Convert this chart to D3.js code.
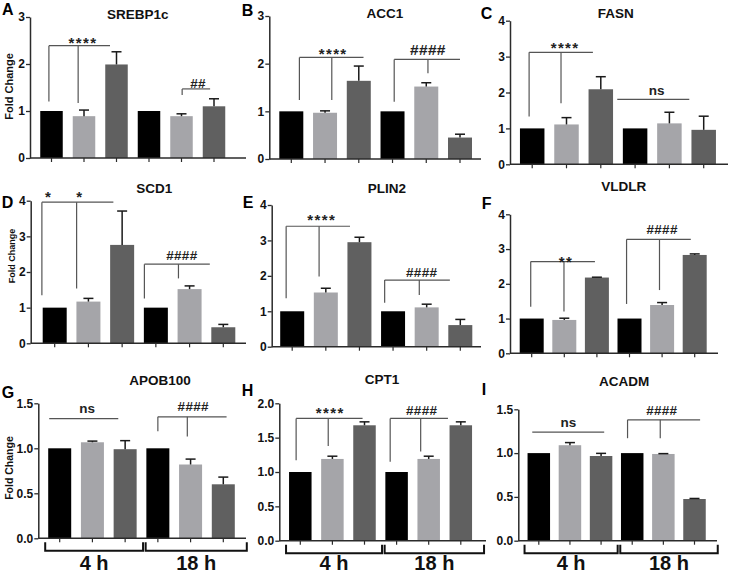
<!DOCTYPE html>
<html>
<head>
<meta charset="utf-8">
<script src="https://cdn.jsdelivr.net/npm/d3@7"></script>
<style>
  body { margin: 0; background: #fff; }
  svg { display: block; font-family: "Liberation Sans", Arial, sans-serif; font-weight: bold; }
</style>
</head>
<body>
<div id="chart"></div>
<script>
// ---- data ----
var genes   = ["SREBP1c", "ACC1", "FASN", "SCD1", "PLIN2", "VLDLR", "APOB100", "CPT1", "ACADM"];
var letters = ["A", "B", "C", "D", "E", "F", "G", "H", "I"];
var groups  = ["4 h", "18 h"];
var barColors = ["#000000", "#a5a5a9", "#606060"];

// mean fold change and SEM, 6 bars per gene (3 at 4 h, 3 at 18 h)
var srebp1cMean = [1, 0.89, 1.99, 1, 0.89, 1.10];
var srebp1cSem  = [0, 0.13, 0.27, 0, 0.05, 0.16];
var acc1Mean    = [1, 0.97, 1.64, 1, 1.52, 0.45];
var acc1Sem     = [0, 0.04, 0.31, 0, 0.08, 0.07];
var fasnMean    = [1, 1.11, 2.09, 1, 1.14, 0.96];
var fasnSem     = [0, 0.19, 0.35, 0, 0.31, 0.38];
var scd1Mean    = [1, 1.17, 2.76, 1, 1.52, 0.45];
var scd1Sem     = [0, 0.09, 0.95, 0, 0.09, 0.08];
var plin2Mean   = [1, 1.53, 2.95, 1, 1.11, 0.61];
var plin2Sem    = [0, 0.12, 0.14, 0, 0.09, 0.16];
var vldlrMean   = [1, 0.96, 2.18, 1, 1.39, 2.83];
var vldlrSem    = [0, 0.05, 0.01, 0, 0.07, 0.03];
var apob100Mean = [1, 1.067, 0.99, 1, 0.82, 0.60];
var apob100Sem  = [0, 0.013, 0.095, 0, 0.06, 0.08];
var cpt1Mean    = [1, 1.19, 1.68, 1, 1.19, 1.68];
var cpt1Sem     = [0, 0.04, 0.05, 0, 0.04, 0.05];
var acadmMean   = [1, 1.09, 0.967, 1, 0.99, 0.476];
var acadmSem    = [0, 0.03, 0.03, 0, 0.004, 0.006];

// y tick values
var ticks3  = [0, 1, 2, 3];
var ticks4  = [0, 1, 2, 3, 4];
var ticks15 = [0, 0.5, 1.0, 1.5];
var ticks20 = [0, 0.5, 1.0, 1.5, 2.0];

// significance brackets: x in bar-index units, y in fold change
var srebp1cSig = [
  {text: [["****", 0.97]], ty: 2.33, y: 2.39, x1: -0.08, x2: 1.8, drops: [[-0.08, 1.2], [0.82, 1.17]]},
  {text: [["##", 4.51]], ty: 1.50, y: 1.47, x1: 4.02, x2: 4.88, drops: [[4.02, 1.34]]}
];
var acc1Sig = [
  {text: [["****", 1.24]], ty: 2.10, y: 2.13, x1: 0.24, x2: 2.14, drops: [[0.24, 1.24], [1.2, 1.24]]},
  {text: [["####", 4.05]], ty: 2.18, y: 2.09, x1: 3.05, x2: 5.0, drops: [[3.05, 1.2], [4.05, 1.8]]}
];
var fasnSig = [
  {text: [["****", 0.96]], ty: 3.09, y: 3.12, x1: -0.09, x2: 1.77, drops: [[-0.09, 1.33], [0.84, 1.7]]},
  {text: [["ns", 3.63]], ty: 1.93, y: 1.81, x1: 2.48, x2: 4.58, drops: []}
];
var scd1Sig = [
  {text: [["*", -0.18], ["*", 0.75]], ty: 3.96, y: 3.96, x1: -0.38, x2: 1.74, drops: [[-0.38, 1.35], [0.65, 1.54]]},
  {text: [["####", 3.77]], ty: 2.34, y: 2.22, x1: 2.66, x2: 4.6, drops: [[2.66, 1.26], [3.67, 1.82]]}
];
var plin2Sig = [
  {text: [["****", 0.88]], ty: 3.44, y: 3.40, x1: -0.18, x2: 1.72, drops: [[-0.18, 1.37], [0.8, 1.98]]},
  {text: [["####", 3.85]], ty: 1.98, y: 1.88, x1: 2.75, x2: 4.69, drops: [[2.75, 1.24], [3.78, 1.46]]}
];
var vldlrSig = [
  {text: [["**", 1.05]], ty: 2.47, y: 2.64, x1: -0.03, x2: 1.94, drops: [[-0.03, 1.34], [0.99, 1.2]]},
  {text: [["####", 4.0]], ty: 3.43, y: 3.28, x1: 2.91, x2: 4.88, drops: [[2.91, 1.42], [3.92, 1.82]]}
];
var apob100Sig = [
  {text: [["ns", 0.84]], ty: 1.395, y: 1.33, x1: -0.32, x2: 1.79, drops: []},
  {text: [["####", 4.08]], ty: 1.41, y: 1.35, x1: 3.0, x2: 5.1, drops: [[3.0, 1.19], [3.9, 1.13]]}
];
var cpt1Sig = [
  {text: [["****", 0.93]], ty: 1.785, y: 1.78, x1: -0.13, x2: 1.94, drops: [[-0.13, 1.17], [0.87, 1.38]]},
  {text: [["####", 3.78]], ty: 1.83, y: 1.78, x1: 2.8, x2: 4.6, drops: [[2.8, 1.15], [3.75, 1.30]]}
];
var acadmSig = [
  {text: [["ns", 0.95]], ty: 1.30, y: 1.24, x1: -0.21, x2: 2.1, drops: []},
  {text: [["####", 3.95]], ty: 1.43, y: 1.38, x1: 2.85, x2: 5.18, drops: [[2.85, 1.17], [3.9, 1.17]]}
];

// ---- layout of the 3x3 grid (pixels) ----
var frames = [
  {x0: 30,    x1: 246, y0: 158,   top: 17,    c0: 51.5,  c5: 214,   bw: 22.5, tx: 137.7, ty: 19.3,  lx: 2,     ly: 15},
  {x0: 269.3, x1: 481, y0: 159,   top: 16,    c0: 291.3, c5: 460,   bw: 24,   tx: 385,   ty: 18.3,  lx: 241.7, ly: 16},
  {x0: 510,   x1: 728, y0: 164.3, top: 20.7,  c0: 532.2, c5: 703.7, bw: 24.5, tx: 615.7, ty: 18.3,  lx: 480.7, ly: 19.3},
  {x0: 30.7,  x1: 246, y0: 343.3, top: 200.7, c0: 54.7,  c5: 223.3, bw: 24,   tx: 154.3, ty: 192.7, lx: 1.7,   ly: 208.3},
  {x0: 271.7, x1: 481, y0: 346.7, top: 205,   c0: 292.2, c5: 460.3, bw: 24,   tx: 386.8, ty: 192.7, lx: 242.7, ly: 208.3},
  {x0: 510,   x1: 718, y0: 353.3, top: 214.3, c0: 531.7, c5: 694.7, bw: 24,   tx: 623.8, ty: 190.7, lx: 481.7, ly: 209.3},
  {x0: 38.3,  x1: 246, y0: 538.3, top: 403.3, c0: 59.7,  c5: 223.3, bw: 23,   tx: 160,   ty: 385,   lx: 1.7,   ly: 398.3},
  {x0: 279.3, x1: 486, y0: 540.7, top: 403.3, c0: 300.3, c5: 460.8, bw: 22.5, tx: 382,   ty: 384,   lx: 241.7, ly: 396},
  {x0: 518.3, x1: 717, y0: 540.7, top: 409.3, c0: 538.8, c5: 694.5, bw: 22.5, tx: 624.2, ty: 386,   lx: 481.7, ly: 395}
];

var means = [srebp1cMean, acc1Mean, fasnMean, scd1Mean, plin2Mean, vldlrMean, apob100Mean, cpt1Mean, acadmMean];
var sems  = [srebp1cSem, acc1Sem, fasnSem, scd1Sem, plin2Sem, vldlrSem, apob100Sem, cpt1Sem, acadmSem];
var sigs  = [srebp1cSig, acc1Sig, fasnSig, scd1Sig, plin2Sig, vldlrSig, apob100Sig, cpt1Sig, acadmSig];
var ticks = [ticks3, ticks3, ticks4, ticks4, ticks4, ticks4, ticks15, ticks20, ticks15];

var svg = d3.select("#chart").append("svg")
            .attr("width", 730)
            .attr("height", 573);

var axisColor = "#2b2b2b";
var lineColor = "#555";

function drawPanel(i) {
    var f = frames[i];
    var tv = ticks[i];
    var g = svg.append("g");

    var step = (f.c5 - f.c0) / 5;
    var pad = 1 - f.bw / step;
    var x = d3.scaleBand()
              .domain(d3.range(6))
              .range([f.c0 - step / 2, f.c5 + step / 2])
              .paddingInner(pad)
              .paddingOuter(pad / 2);
    // fractional bar index -> pixel
    var xi = function(k) { return x(0) + x.bandwidth() / 2 + k * x.step(); };

    var y = d3.scaleLinear()
              .domain([0, tv[tv.length - 1]])
              .range([f.y0, f.top]);

    var rows = means[i].map(function(m, k) { return {k: k, mean: m, sem: sems[i][k]}; });

    // bars
    g.selectAll("rect.bar")
     .data(rows)
     .join("rect")
     .attr("class", "bar")
     .attr("x", function(d) { return x(d.k); })
     .attr("y", function(d) { return y(d.mean); })
     .attr("width", x.bandwidth())
     .attr("height", function(d) { return y(0) - y(d.mean); })
     .attr("fill", function(d) { return barColors[d.k % 3]; });

    // error bars (upper half only)
    var eb = g.selectAll("g.err")
              .data(rows.filter(function(d) { return d.sem > 0; }))
              .join("g")
              .attr("class", "err")
              .attr("stroke", "#1a1a1a")
              .attr("stroke-width", 1.5);
    eb.append("line")
      .attr("x1", function(d) { return xi(d.k); })
      .attr("x2", function(d) { return xi(d.k); })
      .attr("y1", function(d) { return y(d.mean); })
      .attr("y2", function(d) { return y(d.mean + d.sem); });
    eb.append("line")
      .attr("x1", function(d) { return xi(d.k) - 5; })
      .attr("x2", function(d) { return xi(d.k) + 5; })
      .attr("y1", function(d) { return y(d.mean + d.sem); })
      .attr("y2", function(d) { return y(d.mean + d.sem); });

    // y axis
    var fmt = tv[tv.length - 1] <= 2 ? d3.format(".1f") : d3.format("d");
    var ya = g.append("g")
              .attr("transform", "translate(" + f.x0 + ",0)")
              .call(d3.axisLeft(y).tickValues(tv).tickSize(4).tickSizeOuter(0).tickFormat(fmt));
    ya.select(".domain").attr("stroke", axisColor).attr("stroke-width", 1.5);
    ya.selectAll(".tick line").attr("stroke", axisColor).attr("stroke-width", 1.3);
    ya.selectAll(".tick text")
      .attr("x", -5)
      .attr("fill", "#111")
      .style("font-family", "'Liberation Sans', Arial, sans-serif")
      .style("font-weight", "bold")
      .style("font-size", "12px");

    // x axis: band ticks, line runs the full panel width
    var xa = g.append("g")
              .attr("transform", "translate(0," + f.y0 + ")")
              .call(d3.axisBottom(x).tickSize(4).tickSizeOuter(0).tickFormat(""));
    xa.select(".domain").remove();
    xa.selectAll(".tick line").attr("stroke", axisColor).attr("stroke-width", 1.2);
    g.append("line")
     .attr("x1", f.x0).attr("x2", f.x1)
     .attr("y1", f.y0).attr("y2", f.y0)
     .attr("stroke", axisColor)
     .attr("stroke-width", 1.5);

    // significance brackets
    sigs[i].forEach(function(s) {
        g.append("line")
         .attr("x1", xi(s.x1)).attr("x2", xi(s.x2))
         .attr("y1", y(s.y)).attr("y2", y(s.y))
         .attr("stroke", lineColor).attr("stroke-width", 1.2);
        s.drops.forEach(function(dp) {
            g.append("line")
             .attr("x1", xi(dp[0])).attr("x2", xi(dp[0]))
             .attr("y1", y(s.y)).attr("y2", y(dp[1]))
             .attr("stroke", lineColor).attr("stroke-width", 1.2);
        });
        s.text.forEach(function(t) {
            var isHash = t[0].charAt(0) === "#";
            var isStar = t[0].charAt(0) === "*";
            var size = isStar ? 15 : 13.5;
            if (isHash && i === 1) size = 15.5;
            g.append("text")
             .attr("x", xi(t[1]))
             .attr("y", y(s.ty))
             .attr("text-anchor", "middle")
             .attr("font-size", size)
             .attr("letter-spacing", isStar ? 1.4 : (isHash ? 0.3 : 0))
             .attr("fill", "#222")
             .text(t[0]);
        });
    });

    // title and panel letter
    g.append("text")
     .attr("x", f.tx).attr("y", f.ty)
     .attr("text-anchor", "middle")
     .attr("font-size", 13.5)
     .attr("fill", "#111")
     .text(genes[i]);
    g.append("text")
     .attr("x", f.lx).attr("y", f.ly)
     .attr("font-size", 16)
     .attr("fill", "#000")
     .text(letters[i]);

    // time-point brackets under the bottom row
    if (i >= 6) {
        var left = x(0) - 3;
        var mid = x(3) - 2;
        var right = x(5) + x.bandwidth() + 12;
        var spans = [[left, mid - 1.3], [mid + 1.3, right]];
        spans.forEach(function(sp, gi) {
            g.append("path")
             .attr("d", "M" + sp[0] + "," + (f.y0 + 4) + "V" + (f.y0 + 12.5) + "H" + sp[1] + "V" + (f.y0 + 4))
             .attr("fill", "none")
             .attr("stroke", "#111")
             .attr("stroke-width", 2);
            g.append("text")
             .attr("x", (sp[0] + sp[1]) / 2)
             .attr("y", 570)
             .attr("text-anchor", "middle")
             .attr("font-size", 20)
             .attr("fill", "#111")
             .text(groups[gi]);
        });
    }
}

for (var i = 0; i < genes.length; i++) drawPanel(i);

// y-axis titles on the left column
var yTitles = [{x: 9, y: 86.5, s: 11}, {x: 11.5, y: 256, s: 9}, {x: 9.5, y: 468, s: 10.5}];
yTitles.forEach(function(t) {
    svg.append("text")
       .attr("transform", "translate(" + (t.x + t.s * 0.36) + "," + t.y + ") rotate(-90)")
       .attr("text-anchor", "middle")
       .attr("font-size", t.s)
       .attr("fill", "#111")
       .text("Fold Change");
});
</script>
</body>
</html>
